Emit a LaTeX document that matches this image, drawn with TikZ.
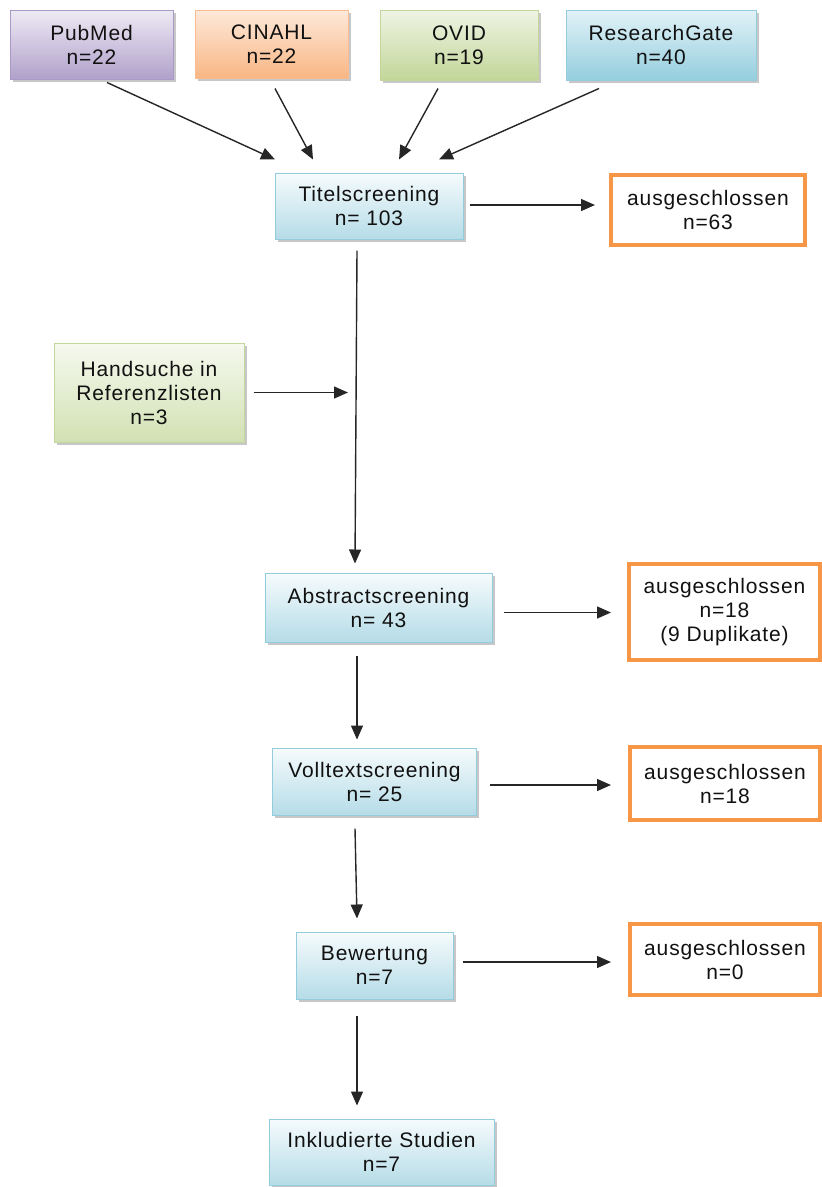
\documentclass[tikz,border=0pt]{standalone}
\usepackage{fontspec}
\setmainfont[LetterSpace=4]{Liberation Sans}
\usetikzlibrary{arrows.meta,shadows,calc}
\definecolor{txt}{HTML}{111111}
\definecolor{purpB}{HTML}{A999C6}
\definecolor{purpD}{HTML}{B1A1CB}
\definecolor{purpL}{HTML}{EEEAF4}
\definecolor{oranB}{HTML}{F9BB8F}
\definecolor{oranD}{HTML}{F9B684}
\definecolor{oranL}{HTML}{FDE9DA}
\definecolor{grnB}{HTML}{C3D69B}
\definecolor{grnD}{HTML}{C2D699}
\definecolor{grnL}{HTML}{EFF4E4}
\definecolor{bluB}{HTML}{93CDDD}
\definecolor{bluD}{HTML}{95CEDE}
\definecolor{bluL}{HTML}{E2F2F7}
\definecolor{procT}{HTML}{F6FBFD}
\definecolor{procB}{HTML}{B5DCE7}
\definecolor{handT}{HTML}{F6F9EF}
\definecolor{handB}{HTML}{D2E1B3}
\definecolor{exclB}{HTML}{F79646}
\tikzset{
  base/.style={rectangle, inner sep=0pt, align=center, text=txt,
    font=\fontsize{21}{24}\selectfont, line width=1pt},
  shad/.style={drop shadow={shadow xshift=2.5pt, shadow yshift=-3pt, fill=black!40, opacity=0.55}},
  srcbox/.style={base, shad, shading=axis, shading angle=#1},
  procbox/.style={base, shad, draw=bluB, top color=procT, bottom color=procB},
  handbox/.style={base, shad, draw=grnB, top color=handT, bottom color=handB},
  exclbox/.style={base, draw=exclB, line width=4pt, fill=white},
  arr/.style={-{Triangle[length=14pt,width=12pt]}, line width=1.4pt, black!85}
}
\begin{document}
\begin{tikzpicture}[x=1pt,y=-1pt]
\useasboundingbox (0,0) rectangle (822,1187);
% sources
\node[srcbox=35, draw=purpB, top color=purpL, bottom color=purpD, minimum width=163, minimum height=69] (pub) at (91.5,44.5) {PubMed\\n=22};
\node[srcbox=35, draw=oranB, top color=oranL, bottom color=oranD, minimum width=153, minimum height=68] (cin) at (271.5,44) {CINAHL\\n=22};
\node[srcbox=35, draw=grnB, top color=grnL, bottom color=grnD, minimum width=158, minimum height=70] (ovid) at (459,45) {OVID\\n=19};
\node[srcbox=35, draw=bluB, top color=bluL, bottom color=bluD, minimum width=190, minimum height=70] (rg) at (661,45) {ResearchGate\\n=40};
% process
\node[procbox, minimum width=188, minimum height=66] (titel) at (369,206) {Titelscreening\\n= 103};
\node[exclbox, minimum width=194, minimum height=70] (ex1) at (708,210) {ausgeschlossen\\n=63};
\node[handbox, minimum width=190, minimum height=99] (hand) at (149,392.5) {Handsuche in\\Referenzlisten\\n=3};
\node[procbox, minimum width=227, minimum height=69] (abs) at (378.5,607.5) {Abstractscreening\\n= 43};
\node[exclbox, minimum width=191, minimum height=96] (ex2) at (724.5,612) {ausgeschlossen\\n=18\\(9 Duplikate)};
\node[procbox, minimum width=204, minimum height=67] (voll) at (374.5,781.5) {Volltextscreening\\n= 25};
\node[exclbox, minimum width=190, minimum height=73] (ex3) at (725,783.5) {ausgeschlossen\\n=18};
\node[procbox, minimum width=157, minimum height=67] (bew) at (374.5,965.5) {Bewertung\\n=7};
\node[exclbox, minimum width=190, minimum height=71] (ex4) at (725,959.5) {ausgeschlossen\\n=0};
\node[procbox, minimum width=225, minimum height=66] (ink) at (381.5,1152) {Inkludierte Studien\\n=7};
% column and junction
\coordinate (cx) at (357,0);
\coordinate (hj) at (348,392.5);
% source arrows
\draw[arr] ($(pub.south)+(15.5,3)$) -- ($(titel.north)+(-94,-13)$);
\draw[arr] ($(cin.south)+(3.5,10)$) -- ($(titel.north)+(-56,-13)$);
\draw[arr] ($(ovid.south)+(-21,8)$) -- ($(titel.north)+(30,-13)$);
\draw[arr] ($(rg.south)+(-62,8)$) -- ($(titel.north)+(70,-13)$);
% main flow
\draw[arr] ($(titel.south -| cx)+(0,11)$) -- ($(abs.north -| cx)+(-2,-9)$);
\draw[arr] ($(hand.east)+(9,0)$) -- (hj);
\draw[arr] ($(abs.south -| cx)+(0,13)$) -- ($(voll.north -| cx)+(0,-8)$);
\draw[arr] ($(voll.south -| cx)+(-2,13)$) -- ($(bew.north -| cx)+(0,-13)$);
\draw[arr] ($(bew.south -| cx)+(0,16)$) -- ($(ink.north -| cx)+(0,-13)$);
% exclusions
\draw[arr] ($(titel.east)+(6,-1)$) -- ($(ex1.west |- titel.east)+(-14,-1)$);
\draw[arr] ($(abs.east)+(11,5)$) -- ($(ex2.west |- abs.east)+(-16,5)$);
\draw[arr] ($(voll.east)+(13,3.5)$) -- ($(ex3.west |- voll.east)+(-17,3.5)$);
\draw[arr] ($(bew.east)+(9,-3.5)$) -- ($(ex4.west |- bew.east)+(-17,-3.5)$);
\end{tikzpicture}
\end{document}
